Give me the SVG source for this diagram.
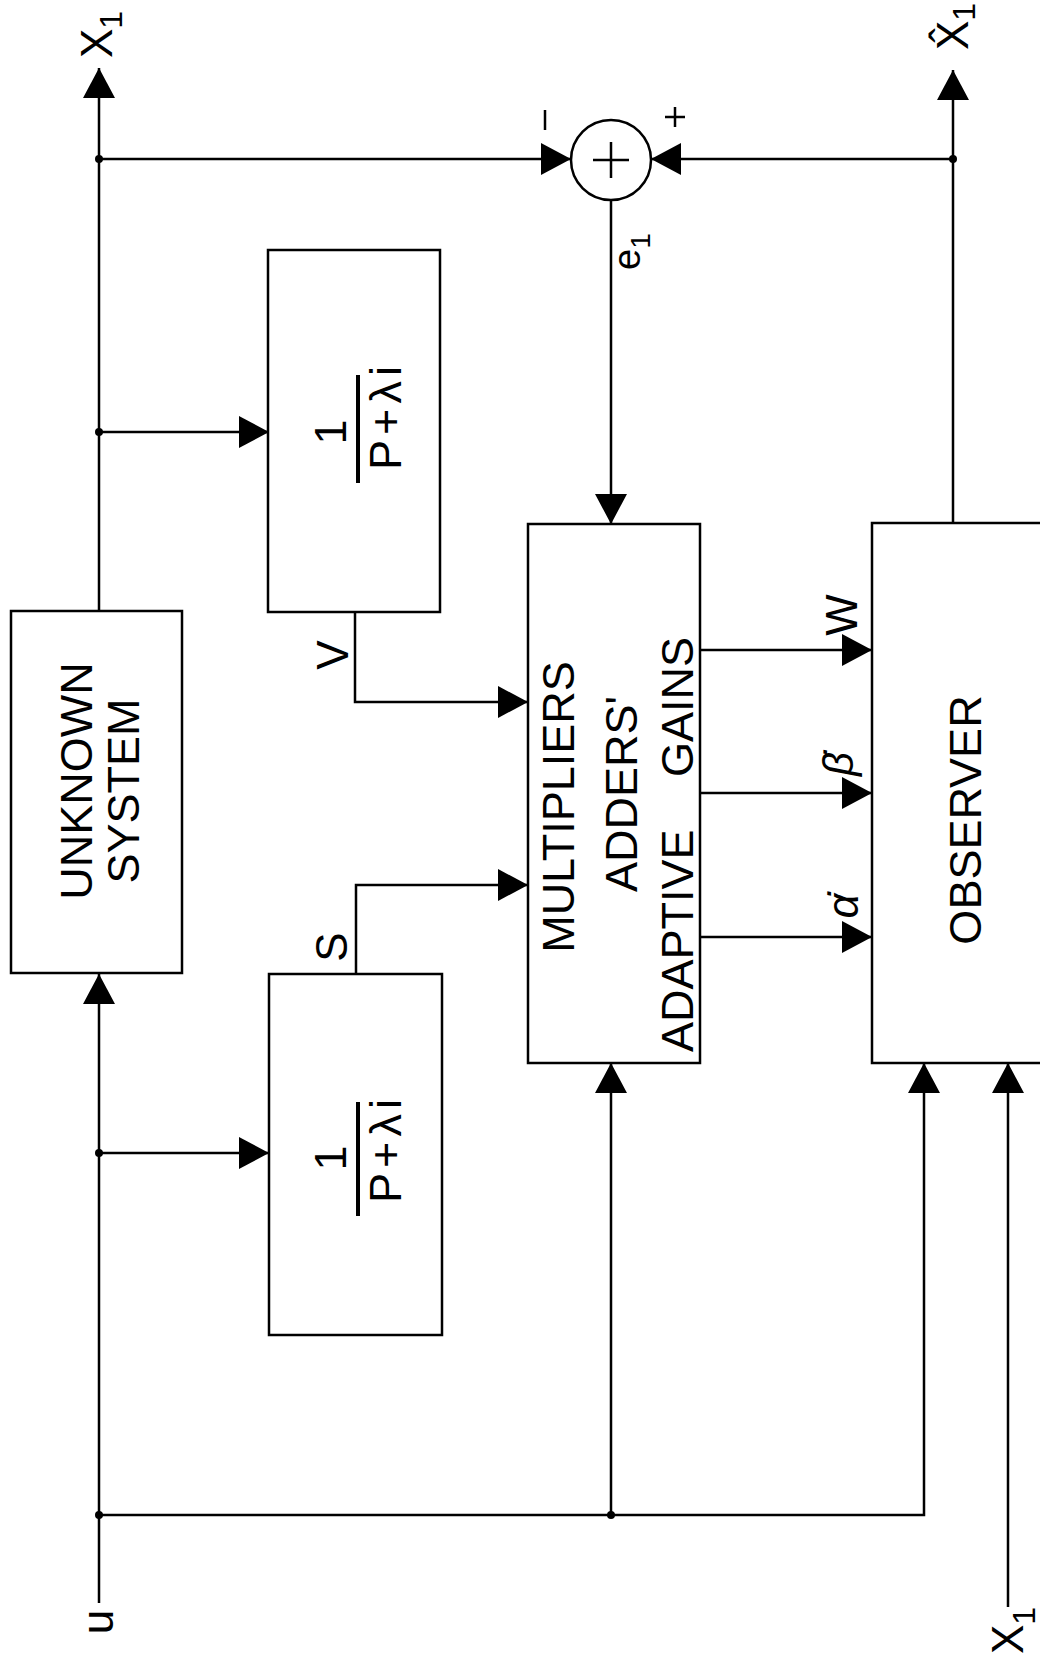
<svg xmlns="http://www.w3.org/2000/svg" width="1040" height="1656" viewBox="0 0 1040 1656">
<style>
.box{fill:#fff;stroke:#000;stroke-width:2.5}
.ln{fill:none;stroke:#000;stroke-width:2.5}
.arr{fill:none;stroke:#000;stroke-width:2.5;marker-end:url(#ah)}
.bar{stroke:#000;stroke-width:4}
.dot{fill:#000}
text{font-family:"Liberation Sans",Arial,sans-serif;fill:#000}
.big{font-size:45px;text-anchor:middle}
.lbl{font-size:44px}
.frac{font-size:45px;text-anchor:middle}
</style>
<defs>
<marker id="ah" viewBox="0 0 30 32" refX="30" refY="16" markerWidth="30" markerHeight="32" markerUnits="userSpaceOnUse" orient="auto">
<path d="M0,0 L30,16 L0,32 Z" fill="#000"/>
</marker>
</defs>
<rect width="1040" height="1656" fill="#fff"/>

<g id="connectors">
<line class="arr" x1="99" y1="1603" x2="99" y2="974"/>
<line class="arr" x1="99" y1="611" x2="99" y2="68"/>
<line class="arr" x1="99" y1="159" x2="571" y2="159"/>
<line class="arr" x1="99" y1="432" x2="269" y2="432"/>
<line class="arr" x1="99" y1="1153" x2="269" y2="1153"/>
<line class="arr" x1="953" y1="523" x2="953" y2="70"/>
<line class="arr" x1="953" y1="159" x2="651" y2="159"/>
<line class="arr" x1="611" y1="200" x2="611" y2="524"/>
<path class="arr" d="M355,612 L355,702 L528,702"/>
<path class="arr" d="M356,974 L356,885 L528,885"/>
<line class="arr" x1="700" y1="650" x2="872" y2="650"/>
<line class="arr" x1="700" y1="793" x2="872" y2="793"/>
<line class="arr" x1="700" y1="937" x2="872" y2="937"/>
<path class="arr" d="M99,1515 L924,1515 L924,1063"/>
<line class="arr" x1="611" y1="1515" x2="611" y2="1063"/>
<line class="arr" x1="1008" y1="1607" x2="1008" y2="1063"/>
<circle class="dot" cx="99" cy="159" r="4"/>
<circle class="dot" cx="99" cy="432" r="4"/>
<circle class="dot" cx="99" cy="1153" r="4"/>
<circle class="dot" cx="99" cy="1515" r="4"/>
<circle class="dot" cx="611" cy="1515" r="4"/>
<circle class="dot" cx="953" cy="159" r="4"/>
</g>

<g id="unknown-system">
<rect class="box" x="11" y="611" width="171" height="362"/>
<text class="big" transform="translate(92,781) rotate(-90)">UNKNOWN</text>
<text class="big" transform="translate(139,791) rotate(-90)">SYSTEM</text>
</g>

<g id="filter-v">
<rect class="box" x="268" y="250" width="172" height="362"/>
<text class="frac" transform="translate(346,432) rotate(-90)">1</text>
<line class="bar" x1="358" y1="375" x2="358" y2="483"/>
<text class="frac" textLength="104" lengthAdjust="spacing" transform="translate(401,418) rotate(-90)">P+λi</text>
</g>

<g id="filter-s">
<rect class="box" x="269" y="974" width="173" height="361"/>
<text class="frac" transform="translate(346,1158) rotate(-90)">1</text>
<line class="bar" x1="358" y1="1102" x2="358" y2="1216"/>
<text class="frac" textLength="104" lengthAdjust="spacing" transform="translate(401,1151) rotate(-90)">P+λi</text>
</g>

<g id="multipliers">
<rect class="box" x="528" y="524" width="172" height="539"/>
<text class="big" transform="translate(574,807) rotate(-90)">MULTIPLIERS</text>
<text class="big" transform="translate(637,794) rotate(-90)">ADDERS'</text>
<text style="font-size:45px;word-spacing:40px" transform="translate(693,1052) rotate(-90)">ADAPTIVE GAINS</text>
</g>

<g id="observer">
<rect class="box" x="872" y="523" width="185" height="540"/>
<text class="big" transform="translate(981,820) rotate(-90)">OBSERVER</text>
</g>

<g id="sum">
<circle cx="611" cy="160" r="40" fill="#fff" stroke="#000" stroke-width="2.5"/>
<line class="ln" x1="593" y1="160" x2="629" y2="160"/>
<line class="ln" x1="611" y1="142" x2="611" y2="178"/>
<line class="ln" x1="545" y1="110" x2="545" y2="130"/>
<line class="ln" x1="665" y1="117" x2="685" y2="117"/>
<line class="ln" x1="675" y1="107" x2="675" y2="127"/>
</g>

<g id="labels">
<text class="lbl" transform="translate(112,58) rotate(-90)">X<tspan font-size="32" dy="10">1</tspan></text>
<text class="lbl" transform="translate(968,50) rotate(-90)">X̂<tspan font-size="32" dy="7">1</tspan></text>
<text class="lbl" transform="translate(1023,1654) rotate(-90)">X<tspan font-size="32" dy="12">1</tspan></text>
<text class="lbl" text-anchor="middle" transform="translate(113,1622) rotate(-90)">u</text>
<text class="lbl" text-anchor="middle" transform="translate(348,655) rotate(-90)">V</text>
<text class="lbl" text-anchor="middle" transform="translate(347,947) rotate(-90)">S</text>
<text style="font-size:38px" transform="translate(640,270) rotate(-90)">e<tspan font-size="28" dy="10">1</tspan></text>
<text class="lbl" text-anchor="middle" transform="translate(857,615) rotate(-90)">W</text>
<text style="font-size:42px;font-style:italic" text-anchor="middle" transform="translate(853,764) rotate(-90)">β̇</text>
<text style="font-size:44px;font-style:italic" text-anchor="middle" transform="translate(858,906) rotate(-90)">α̇</text>
</g>
</svg>
